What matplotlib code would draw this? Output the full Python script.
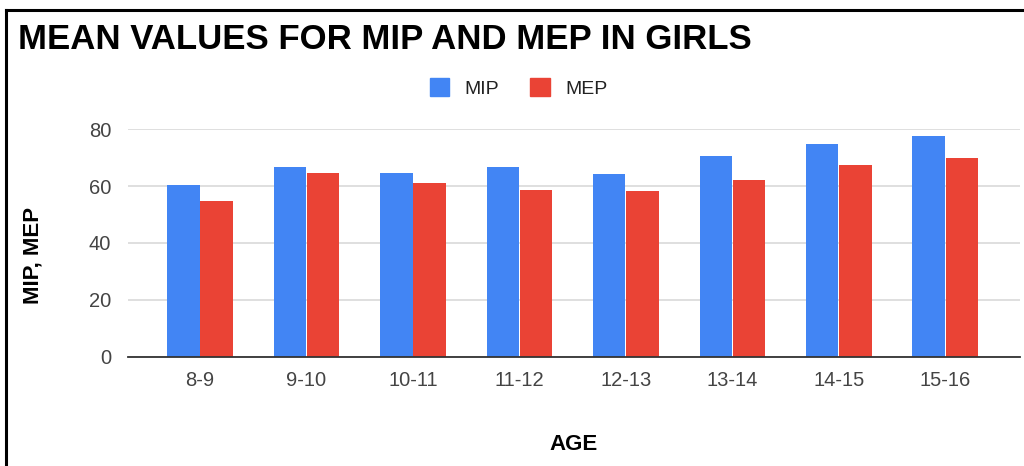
import matplotlib
matplotlib.use("Agg")
import matplotlib.pyplot as plt
from matplotlib.lines import Line2D
from matplotlib.patches import Patch
import numpy as np

plt.rcParams["font.family"] = ["Liberation Sans", "DejaVu Sans"]

ages = ["8-9", "9-10", "10-11", "11-12", "12-13", "13-14", "14-15", "15-16"]
mip = [60.4, 66.6, 64.8, 66.6, 64.2, 70.6, 74.8, 77.5]
mep = [54.8, 64.8, 61.0, 58.5, 58.4, 62.2, 67.4, 69.8]

blue = "#4285F4"
red = "#EA4335"

W, H = 1024, 466
fig = plt.figure(figsize=(W / 100, H / 100), dpi=100)

# plot area placed in pixel terms
left, right, bottom, top = 128, 1020, 356.7, 129.3
ax = fig.add_axes([left / W, (H - bottom) / H, (right - left) / W, (bottom - top) / H])

x = np.arange(len(ages))
bw = 0.305
ax.bar(x - 0.157, mip, width=bw, color=blue, label="MIP", zorder=3)
ax.bar(x + 0.157, mep, width=bw, color=red, label="MEP", zorder=3)

ax.set_xlim(-0.676, 7.70)
ax.set_ylim(0, 80)
ax.set_yticks([0, 20, 40, 60, 80])
ax.set_xticks(x)
ax.set_xticklabels(ages)
ax.tick_params(axis="both", length=0, labelsize=14.5, labelcolor="#444444")
ax.tick_params(axis="x", pad=10)
ax.tick_params(axis="y", pad=12)
ax.grid(axis="y", color="#d9d9d9", linewidth=1.2, zorder=0)
for s in ["top", "right", "left"]:
    ax.spines[s].set_visible(False)
ax.spines["bottom"].set_color("#333333")
ax.spines["bottom"].set_linewidth(1.3)
ax.spines["bottom"].set_zorder(4)

fig.text(33 / W, (H - 255) / H, "MIP, MEP", rotation=90, fontsize=16,
         fontweight="bold", ha="center", va="center")
fig.text(574 / W, (H - 445) / H, "AGE", fontsize=16, fontweight="bold",
         ha="center", va="center")

fig.text(18 / W, (H - 49) / H, "MEAN VALUES FOR MIP AND MEP IN GIRLS",
         fontsize=25, fontweight="bold", ha="left", va="baseline")

handles = [Patch(color=blue, label="MIP"), Patch(color=red, label="MEP")]
fig.legend(handles=handles, loc="center", bbox_to_anchor=(518.5 / W, (H - 88) / H),
           ncol=2, frameon=False, fontsize=14, handlelength=1.0, handleheight=1.0,
           handletextpad=0.8, columnspacing=1.6, labelcolor="#222222")

# frame lines on the top and left edges
fig.add_artist(Line2D([6 / W, 6 / W], [0, (H - 10) / H], color="black", linewidth=2.2))
fig.add_artist(Line2D([6 / W, 1], [(H - 10) / H, (H - 10) / H], color="black", linewidth=2.2))

fig.savefig("out.png", dpi=100, facecolor="white")
